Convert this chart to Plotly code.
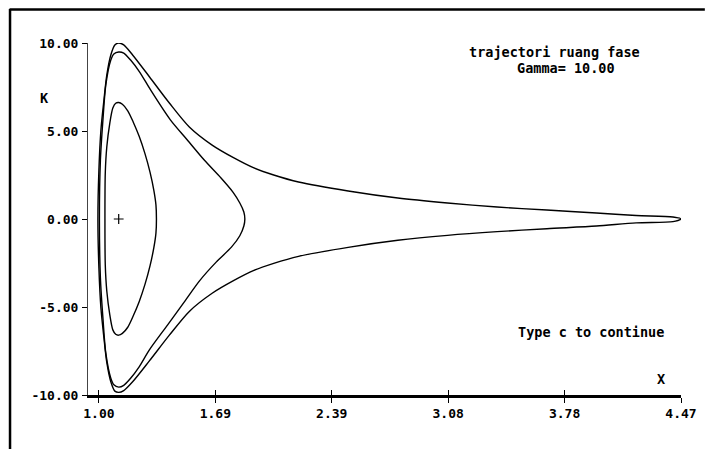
import plotly.graph_objects as go

# ---------------- data ----------------
x_tick_vals = [1.0, 1.694, 2.388, 3.082, 3.776, 4.47]
x_tick_text = ["1.00", "1.69", "2.39", "3.08", "3.78", "4.47"]
y_tick_vals = [-10, -5, 0, 5, 10]
y_tick_text = ["-10.00", "-5.00", "0.00", "5.00", "10.00"]

# outer trajectory (peak ~10, long tail to X=4.47)
outer_x = [0.994, 1.000, 1.012, 1.030, 1.047, 1.071, 1.095, 1.118, 1.148, 1.201, 1.302,
           1.420, 1.539, 1.675, 1.805, 1.924, 2.042, 2.190, 2.486, 2.782, 3.078, 3.374,
           3.670, 3.966, 4.203, 4.422, 4.470,
           4.422, 4.203, 3.966, 3.670, 3.374, 3.078, 2.782, 2.486, 2.190, 2.042, 1.924,
           1.805, 1.675, 1.539, 1.420, 1.302, 1.201, 1.148, 1.118, 1.095, 1.071, 1.047,
           1.030, 1.012, 1.000, 0.994]
outer_k = [0.00, 2.78, 5.06, 6.76, 8.18, 9.32, 9.89, 10.00, 9.89, 9.32, 8.07,
           6.59, 5.23, 4.20, 3.47, 2.90, 2.50, 2.10, 1.59, 1.19, 0.91, 0.68,
           0.51, 0.34, 0.20, 0.11, 0.00,
           -0.15, -0.22, -0.40, -0.55, -0.72, -0.93, -1.21, -1.61, -2.12, -2.52, -2.92,
           -3.49, -4.22, -5.25, -6.60, -8.05, -9.25, -9.75, -9.85, -9.78, -9.25, -8.15,
           -6.76, -5.06, -2.78, 0.00]

# separatrix-like closed orbit (peak ~9.5, cusp near X=1.87)
mid_x = [1.003, 1.009, 1.024, 1.041, 1.071, 1.089, 1.118, 1.148, 1.189, 1.243, 1.308,
         1.426, 1.527, 1.628, 1.728, 1.799, 1.840, 1.864, 1.870,
         1.864, 1.840, 1.790, 1.699, 1.601, 1.506, 1.411, 1.300, 1.240, 1.189, 1.148,
         1.118, 1.089, 1.071, 1.041, 1.024, 1.009, 1.003]
mid_k = [0.00, 3.35, 5.63, 7.61, 9.03, 9.38, 9.49, 9.43, 9.03, 8.35, 7.33,
         5.63, 4.49, 3.35, 2.33, 1.53, 0.91, 0.40, 0.00,
         -0.40, -0.95, -1.60, -2.45, -3.50, -4.75, -6.00, -7.45, -8.40, -9.05, -9.45,
         -9.55, -9.42, -9.05, -7.61, -5.63, -3.35, 0.00]

# inner closed orbit (peak ~6.6)
inner_x = [1.036, 1.038, 1.047, 1.065, 1.083, 1.100, 1.118, 1.140, 1.172, 1.205, 1.240,
           1.275, 1.305, 1.328, 1.340, 1.343,
           1.340, 1.328, 1.305, 1.275, 1.240, 1.205, 1.172, 1.140, 1.118, 1.100, 1.083,
           1.065, 1.047, 1.038, 1.036]
inner_k = [0.00, 2.61, 4.09, 5.45, 6.30, 6.58, 6.62, 6.52, 6.15, 5.50, 4.70,
           3.70, 2.65, 1.60, 0.80, 0.00,
           -0.80, -1.60, -2.65, -3.70, -4.70, -5.50, -6.15, -6.50, -6.60, -6.55, -6.30,
           -5.45, -4.09, -2.61, 0.00]

center_x = [1.118]
center_k = [0.0]

# ---------------- figure ----------------
W, H = 709, 449
L, R, T, B = 88, 24, 43, 54
pw, ph = W - L - R, H - T - B


def px(xp):
    return (xp - L) / pw


def py(yp):
    return (H - B - yp) / ph


FONT = "DejaVu Sans Mono"
line_style = dict(color="black", width=1.4, shape="spline", smoothing=0.8)

fig = go.Figure()
for xs, ks in [(outer_x, outer_k), (mid_x, mid_k), (inner_x, inner_k)]:
    fig.add_trace(go.Scatter(x=xs, y=ks, mode="lines", line=line_style,
                             hoverinfo="skip", cliponaxis=False))
fig.add_trace(go.Scatter(x=center_x, y=center_k, mode="markers",
                         marker=dict(symbol="cross-thin", size=7,
                                     line=dict(color="black", width=1.2))))
# dummy trace for the overlay axis carrying the upward tick marks
fig.add_trace(go.Scatter(x=[x_tick_vals[0]], y=[0], xaxis="x2", mode="markers",
                         marker=dict(opacity=0), hoverinfo="skip"))

fig.update_layout(
    width=W, height=H,
    margin=dict(l=L, r=R, t=T, b=B),
    paper_bgcolor="white", plot_bgcolor="white",
    showlegend=False,
    font=dict(family=FONT, size=13, color="black"),
    xaxis=dict(range=[0.935, 4.47], tickvals=x_tick_vals, ticktext=x_tick_text,
               ticks="outside", ticklen=5, tickwidth=1, tickcolor="black",
               showline=True, linewidth=2.5, linecolor="black",
               showgrid=False, zeroline=False,
               tickfont=dict(family=FONT, size=13, color="black", weight="bold")),
    xaxis2=dict(range=[0.935, 4.47], overlaying="x", anchor="y", side="bottom",
                tickvals=x_tick_vals, ticks="inside", ticklen=5, tickwidth=1,
                tickcolor="black", showticklabels=False, showline=False,
                showgrid=False, zeroline=False),
    yaxis=dict(range=[-10, 10], tickvals=y_tick_vals, ticktext=y_tick_text,
               ticks="outside", ticklen=5, tickwidth=1, tickcolor="black",
               showline=True, linewidth=1, linecolor="#444",
               showgrid=False, zeroline=False, ticklabelstandoff=1,
               tickfont=dict(family=FONT, size=13, color="black", weight="bold")),
)

ann_font = dict(family=FONT, size=13.5, color="black", weight="bold")
annotations = [
    ("K", px(44), py(98)),
    ("X", px(665), py(379)),
    ("trajectori ruang fase", px(557.5), py(52)),
    ("Gamma= 10.00", px(569), py(68)),
    ("Type c to continue", px(594), py(332)),
]
for text, ax, ay in annotations:
    fig.add_annotation(text=text, x=ax, y=ay, xref="paper", yref="paper",
                       xanchor="center", yanchor="middle", showarrow=False,
                       font=ann_font)

# outer frame (top and left edges of the screen box)
fig.add_shape(type="line", xref="paper", yref="paper",
              x0=px(9), y0=py(9.5), x1=px(709), y1=py(9.5),
              line=dict(color="black", width=2.5))
fig.add_shape(type="line", xref="paper", yref="paper",
              x0=px(9.5), y0=py(9), x1=px(9.5), y1=py(449),
              line=dict(color="black", width=2.5))

fig.write_html(
    "out.html",
    config={"displayModeBar": False},
    post_script="document.body.style.margin='0';"
                "document.documentElement.style.overflow='hidden';",
)
